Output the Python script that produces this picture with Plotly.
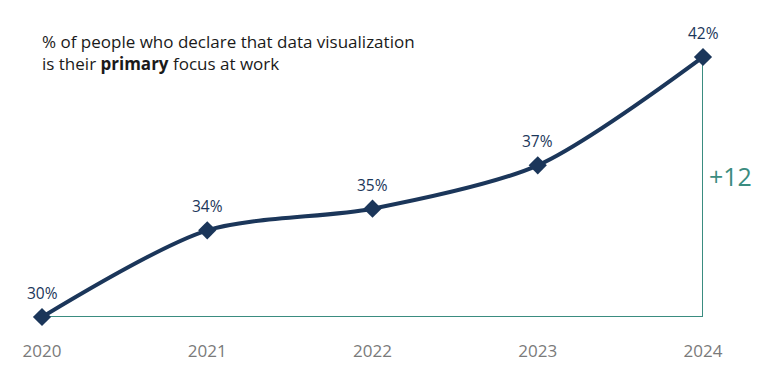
import plotly.graph_objects as go

years = [2020, 2021, 2022, 2023, 2024]
values = [30, 34, 35, 37, 42]
labels = ["30%", "34%", "35%", "37%", "42%"]
tick_labels = ["2020", "2021", "2022", "2023", "2024"]
delta_label = "+12"

navy = "#1b365a"
teal = "#3a8c80"

fig = go.Figure()

# reference lines: baseline from first value, vertical rise at last year
fig.add_trace(go.Scatter(
    x=[years[0], years[-1], years[-1]],
    y=[values[0], values[0], values[-1]],
    mode="lines", line=dict(color=teal, width=2),
    hoverinfo="skip", cliponaxis=False, showlegend=False,
))

fig.add_trace(go.Scatter(
    x=years, y=values, mode="lines+markers",
    line=dict(color=navy, width=4, shape="spline", smoothing=0.8),
    marker=dict(symbol="diamond", size=14, color=navy),
    cliponaxis=False, showlegend=False,
))

for x, y, t in zip(years, values, labels):
    fig.add_annotation(x=x, y=y, text=t, showarrow=False, yshift=24,
                       font=dict(size=15.5, color=navy, family="Open Sans"))

fig.add_annotation(x=years[-1], y=(values[0] + values[-1]) / 2, text=delta_label,
                   showarrow=False, xanchor="left", xshift=4, yshift=11,
                   font=dict(size=25, color=teal, family="Open Sans"))

fig.add_annotation(
    xref="paper", yref="paper", x=0, y=1, xanchor="left", yanchor="bottom",
    xshift=-2, yshift=-20, align="left", showarrow=False,
    text="% of people who declare that data visualization<br>is their <b>primary</b> focus at work",
    font=dict(size=17, color="#1a1a1a", family="Open Sans"),
)

fig.update_layout(
    width=760, height=375,
    margin=dict(l=34, r=65, t=49, b=66),
    paper_bgcolor="white", plot_bgcolor="white",
    xaxis=dict(range=[years[0], years[-1]], tickvals=years, ticktext=tick_labels,
               showgrid=False, zeroline=False, showline=False,
               tickfont=dict(size=17, color="#7a7a7a", family="Open Sans"),
               ticklabelstandoff=22),
    yaxis=dict(range=[values[0], values[-1]], visible=False),
)

fig.write_html("out.html")
